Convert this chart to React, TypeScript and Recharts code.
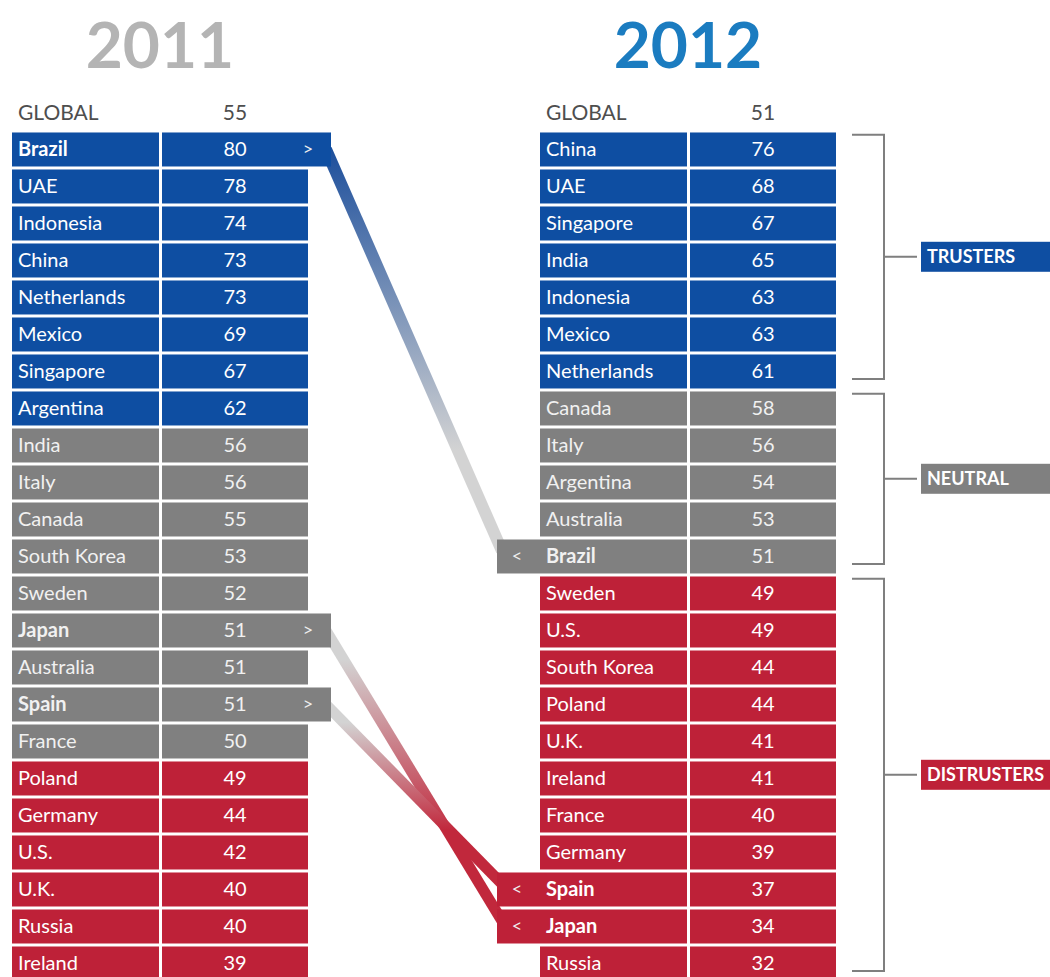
import React from 'react';
import { ScatterChart, Scatter, XAxis, YAxis } from 'recharts';

const years = ['2011', '2012'];
const globalScores = [55, 51];

const countries2011 = [
  'Brazil', 'UAE', 'Indonesia', 'China', 'Netherlands', 'Mexico', 'Singapore', 'Argentina',
  'India', 'Italy', 'Canada', 'South Korea', 'Sweden', 'Japan', 'Australia', 'Spain', 'France',
  'Poland', 'Germany', 'U.S.', 'U.K.', 'Russia', 'Ireland',
];
const scores2011 = [80, 78, 74, 73, 73, 69, 67, 62, 56, 56, 55, 53, 52, 51, 51, 51, 50, 49, 44, 42, 40, 40, 39];

const countries2012 = [
  'China', 'UAE', 'Singapore', 'India', 'Indonesia', 'Mexico', 'Netherlands', 'Canada', 'Italy',
  'Argentina', 'Australia', 'Brazil', 'Sweden', 'U.S.', 'South Korea', 'Poland', 'U.K.', 'Ireland',
  'France', 'Germany', 'Spain', 'Japan', 'Russia',
];
const scores2012 = [76, 68, 67, 65, 63, 63, 61, 58, 56, 54, 53, 51, 49, 49, 44, 44, 41, 41, 40, 39, 37, 34, 32];

// countries that changed group between the two years
const movers = ['Brazil', 'Japan', 'Spain'];
const groupLabels = ['TRUSTERS', 'NEUTRAL', 'DISTRUSTERS'];

// 60+ trusters, 50-59 neutral, below 50 distrusters
const groupOf = (v: number) => (v >= 60 ? 0 : v >= 50 ? 1 : 2);

const GROUP_COLORS = ['#0e4ea2', '#808080', '#be2138'];
const FADE_COLORS = ['#1d4f9c', '#d3d3d3', '#c1283c'];
const YEAR_COLORS = ['#b4b4b4', '#1b7cc0'];
const FONT = "Lato, 'Open Sans', sans-serif";

// layout
const W = 1050;
const H = 977;
const TABLE_LEFT = [12, 540];
const NAME_W = 147;
const CELL_GAP = 3;
const VALUE_W = 146;
const ROW_H = 34;
const TAB_RIGHT = 23;
const TAB_LEFT = 43;
const TABLE_W = NAME_W + CELL_GAP + VALUE_W;
const BRACKET_X0 = TABLE_LEFT[1] + TABLE_W + 16;
const BRACKET_X1 = BRACKET_X0 + 32;
const TICK_X1 = BRACKET_X1 + 33;
const LABEL_X = TICK_X1 + 4;

const tableRows = [
  { names: countries2011, scores: scores2011 },
  { names: countries2012, scores: scores2012 },
].map((t, side) =>
  t.names.map((name, i) => ({
    x: TABLE_LEFT[side],
    y: i,
    name,
    value: t.scores[i],
    group: groupOf(t.scores[i]),
    mover: movers.includes(name),
    side,
  }))
);

const headers = years.map((year, side) => ({ x: TABLE_LEFT[side], y: -1, year, value: globalScores[side], side }));
const titles = years.map((year, side) => ({ x: TABLE_LEFT[side], y: -2.2, year, side }));

const connectors = movers.map((name) => {
  const a = countries2011.indexOf(name);
  const b = countries2012.indexOf(name);
  return {
    name,
    from: groupOf(scores2011[a]),
    to: groupOf(scores2012[b]),
    points: [
      { x: TABLE_LEFT[0] + TABLE_W + TAB_RIGHT - 5, y: a },
      { x: TABLE_LEFT[1] - TAB_LEFT + 5, y: b - 0.15 },
    ],
  };
});

const groups = groupLabels.map((label, g) => {
  const idx = scores2012.map((v, i) => (groupOf(v) === g ? i : -1)).filter((i) => i >= 0);
  const top = idx[0] - 0.4;
  const bottom = idx[idx.length - 1] + 0.2;
  const mid = (top + bottom) / 2;
  return {
    label,
    g,
    mid,
    path: [
      { x: BRACKET_X0, y: top },
      { x: BRACKET_X1, y: top },
      { x: BRACKET_X1, y: mid },
      { x: TICK_X1, y: mid },
      { x: BRACKET_X1, y: mid },
      { x: BRACKET_X1, y: bottom },
      { x: BRACKET_X0, y: bottom },
    ],
  };
});
const groupTags = groups.map((gr) => ({ x: LABEL_X, y: gr.mid, label: gr.label, g: gr.g }));

const Nothing = () => <g />;

const TableRow = (props: any) => {
  const { cx, cy, payload } = props;
  const color = GROUP_COLORS[payload.group];
  const top = cy - ROW_H / 2;
  const left = payload.side === 0;
  let nameX = cx;
  let nameW = NAME_W;
  let valW = VALUE_W;
  if (payload.mover && left) valW += TAB_RIGHT;
  if (payload.mover && !left) {
    nameX -= TAB_LEFT;
    nameW += TAB_LEFT;
  }
  const ink = payload.group === 1 ? '#f1f1f1' : '#ffffff';
  const valX = cx + NAME_W + CELL_GAP;
  return (
    <g>
      <rect x={nameX} y={top} width={nameW} height={ROW_H} fill={color} />
      <rect x={valX} y={top} width={valW} height={ROW_H} fill={color} />
      <text x={cx + 6} y={cy + 7} fill={ink} fontSize={20} fontFamily={FONT} fontWeight={payload.mover ? 700 : 400}>
        {payload.name}
      </text>
      <text x={valX + VALUE_W / 2} y={cy + 7} fill={ink} fontSize={20} fontFamily={FONT} textAnchor="middle">
        {payload.value}
      </text>
      {payload.mover && left && (
        <text x={valX + VALUE_W} y={cy + 6} fill="#eeeeee" fontSize={18} fontFamily={FONT} textAnchor="middle">
          &gt;
        </text>
      )}
      {payload.mover && !left && (
        <text x={cx - 23} y={cy + 6} fill="#eeeeee" fontSize={18} fontFamily={FONT} textAnchor="middle">
          &lt;
        </text>
      )}
    </g>
  );
};

const HeaderRow = (props: any) => {
  const { cx, cy, payload } = props;
  return (
    <g>
      <text x={cx + 6} y={cy + 8} fill="#4e4e4e" fontSize={21} fontFamily={FONT}>
        GLOBAL
      </text>
      <text x={cx + NAME_W + CELL_GAP + VALUE_W / 2} y={cy + 8} fill="#4e4e4e" fontSize={21} fontFamily={FONT} textAnchor="middle">
        {payload.value}
      </text>
    </g>
  );
};

const Title = (props: any) => {
  const { cx, cy, payload } = props;
  return (
    <text
      x={cx + TABLE_W / 2}
      y={cy}
      fill={YEAR_COLORS[payload.side]}
      fontSize={64}
      fontWeight={700}
      fontFamily={FONT}
      textAnchor="middle"
    >
      {payload.year}
    </text>
  );
};

const GroupTag = (props: any) => {
  const { cx, cy, payload } = props;
  return (
    <g>
      <rect x={cx} y={cy - 15} width={W - cx + 10} height={30} fill={GROUP_COLORS[payload.g]} />
      <text x={cx + 6} y={cy + 6.5} fill="#ffffff" fontSize={18} fontWeight={700} fontFamily={FONT}>
        {payload.label}
      </text>
    </g>
  );
};

export default function App() {
  return (
    <div style={{ position: 'absolute', left: 0, top: 0, background: '#fff' }}>
      <ScatterChart width={W} height={H} margin={{ top: 0, right: 0, bottom: 0, left: 0 }}>
        <defs>
          {connectors.map((c) => (
            <linearGradient key={c.name} id={`fade-${c.name}`} x1="0" y1="0" x2="0" y2="1">
              <stop offset={c.from === 1 ? '10%' : '0%'} stopColor={FADE_COLORS[c.from]} />
              <stop offset={c.from === 1 ? '70%' : '75%'} stopColor={FADE_COLORS[c.to]} />
            </linearGradient>
          ))}
        </defs>
        <XAxis type="number" dataKey="x" domain={[0, W]} allowDataOverflow hide />
        <YAxis type="number" dataKey="y" domain={[-4.04, 22.365]} allowDataOverflow reversed hide />
        {connectors.map((c) => (
          <Scatter
            key={c.name}
            data={c.points}
            line={{ stroke: `url(#fade-${c.name})`, strokeWidth: c.from === 0 ? 12 : 11 }}
            lineType="joint"
            shape={Nothing}
            isAnimationActive={false}
          />
        ))}
        {tableRows.map((rows, side) => (
          <Scatter key={side} data={rows} shape={TableRow} isAnimationActive={false} />
        ))}
        <Scatter data={headers} shape={HeaderRow} isAnimationActive={false} />
        <Scatter data={titles} shape={Title} isAnimationActive={false} />
        {groups.map((gr) => (
          <Scatter
            key={gr.label}
            data={gr.path}
            line={{ stroke: '#7f7f7f', strokeWidth: 2, fill: 'none' }}
            lineType="joint"
            shape={Nothing}
            isAnimationActive={false}
          />
        ))}
        <Scatter data={groupTags} shape={GroupTag} isAnimationActive={false} />
      </ScatterChart>
    </div>
  );
}
